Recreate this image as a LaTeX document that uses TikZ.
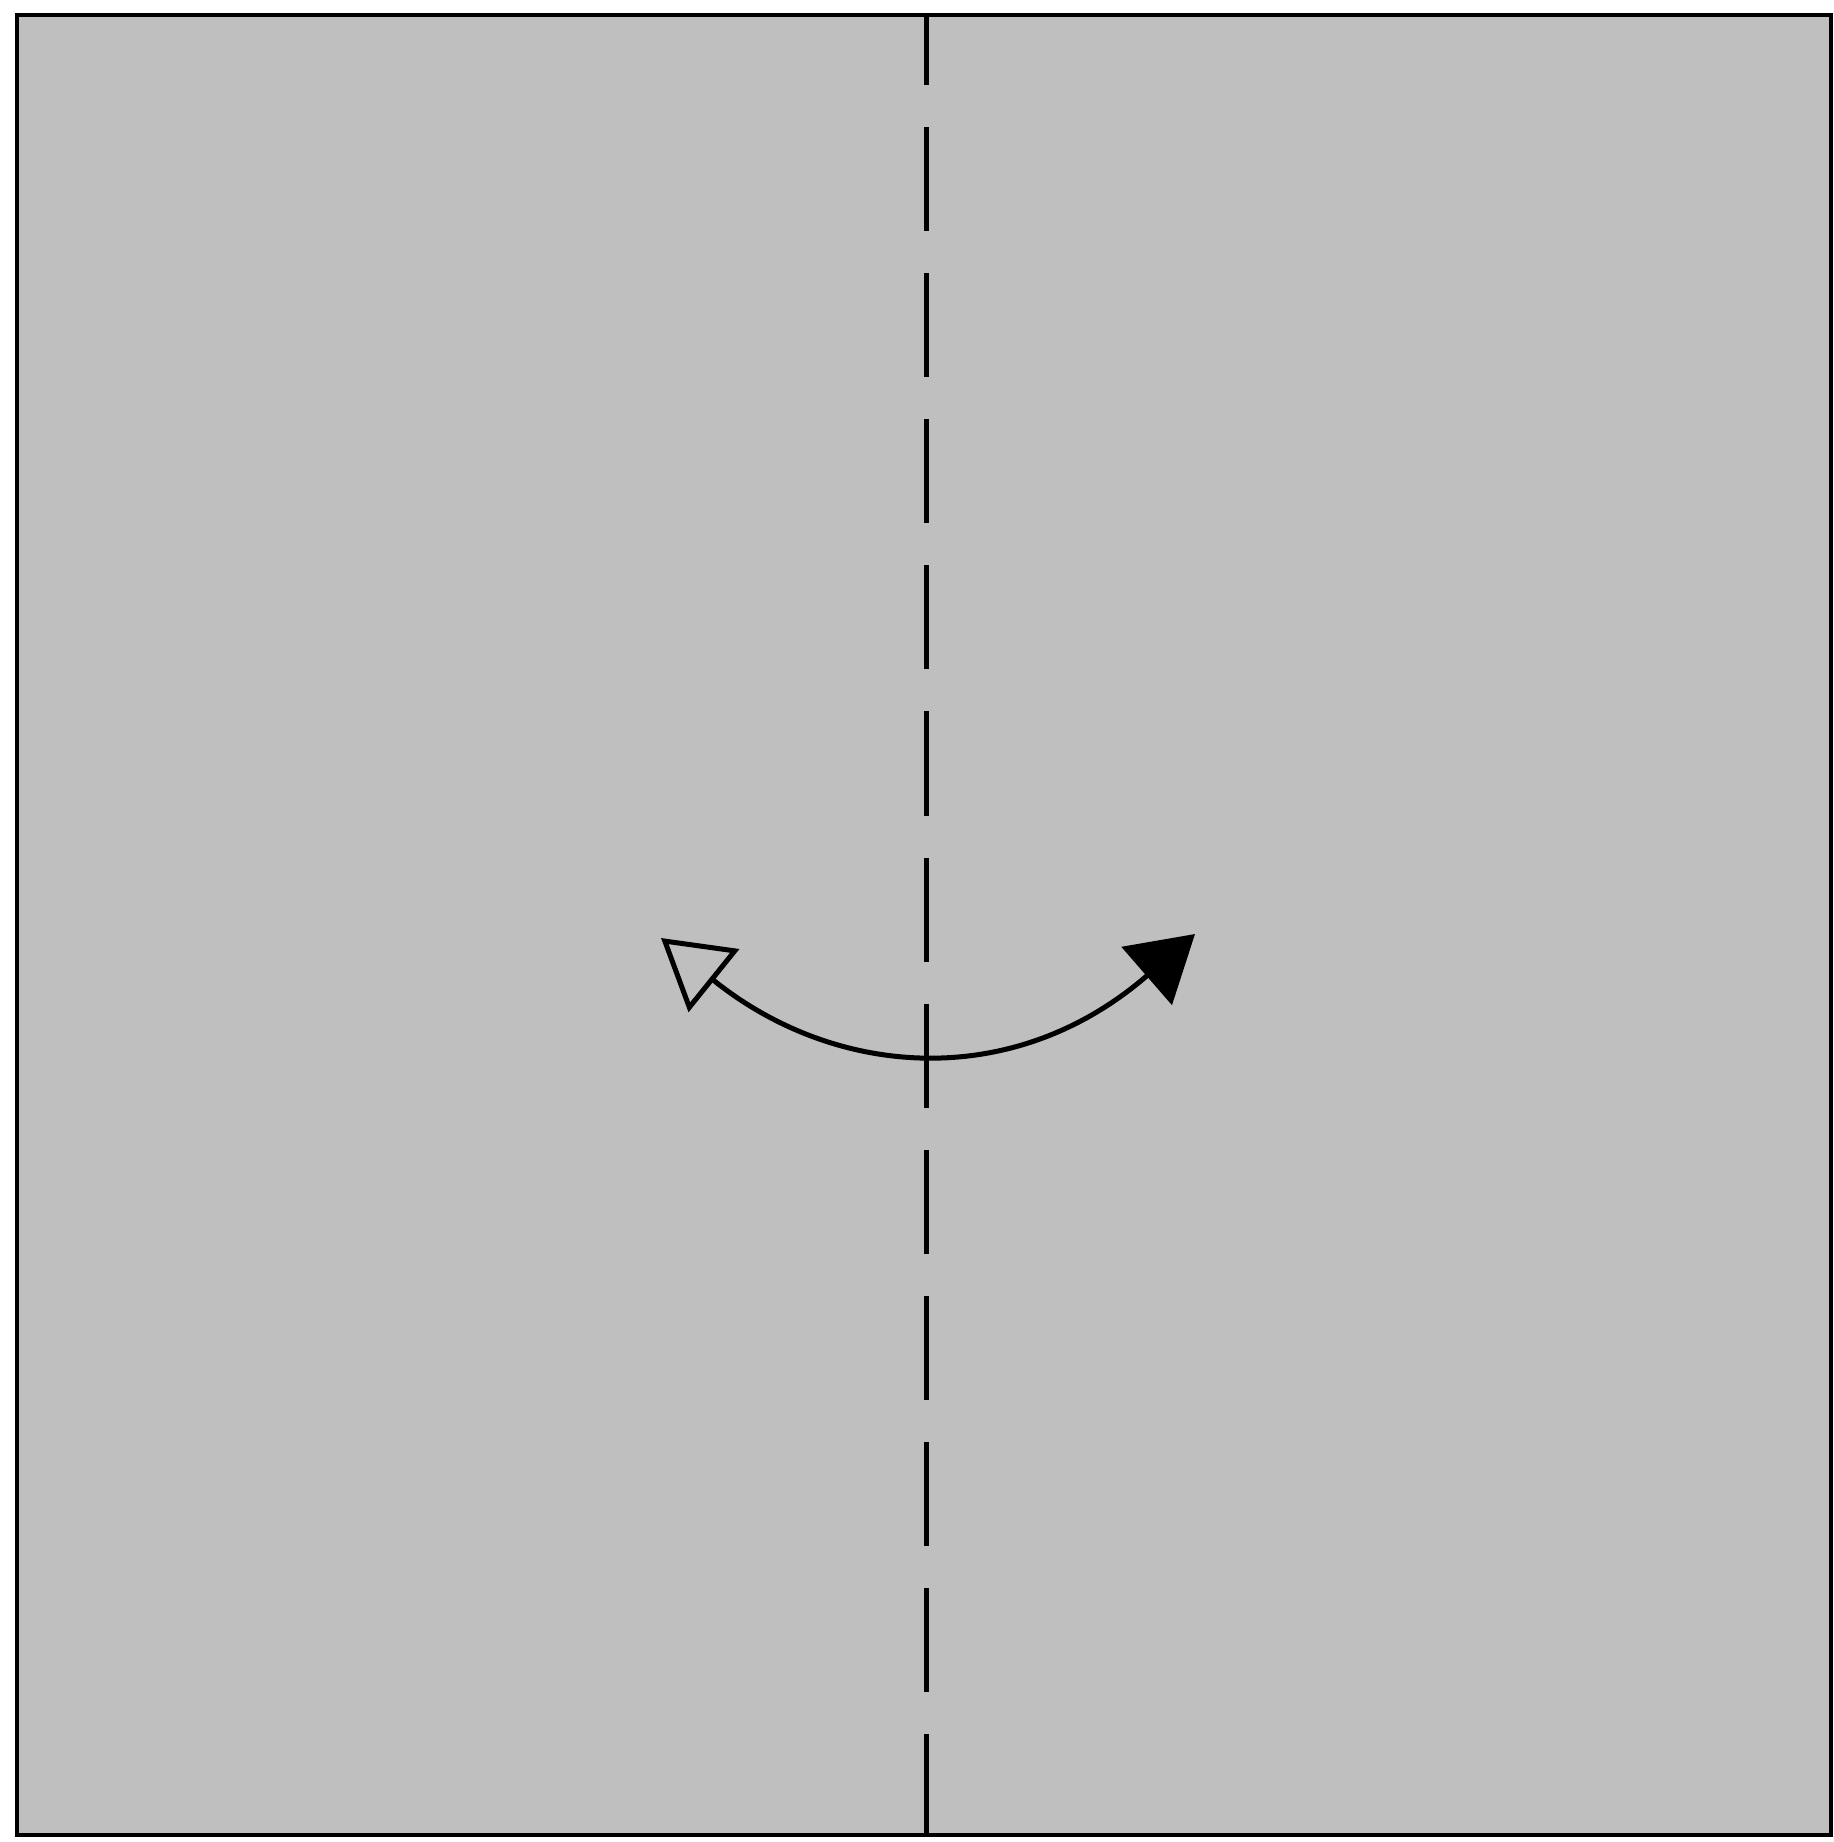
\documentclass[tikz,border=0pt]{standalone}
\usepackage{xcolor}
\usepackage{tikz}
\usetikzlibrary{arrows.meta, positioning, calc}
\tikzstyle{paper} = [draw=black, fill=black!25, line width=0.045cm]
\tikzstyle{valley} = [draw=black, line width=0.05cm, dash pattern=on 29.6pt off 11.95pt, dash phase=9.7pt]
\tikzstyle{arrow} = [line width=0.05cm, {Triangle[open,length=0.68cm,width=0.8cm]}-{Triangle[length=0.64cm,width=0.76cm]}]

\begin{document}
\begin{tikzpicture}[x=0.01cm, y=-0.01cm]
    \useasboundingbox (0,0) rectangle (1834,1842);
    \coordinate (nw) at (17,15);
    \coordinate (se) at (1831,1835);
    \draw [paper] (nw) rectangle (se);

    \coordinate (top) at (926,15);
    \coordinate (bottom) at (926,1835);
    \draw [valley] (top) -- (bottom);

    \coordinate (left) at (661,938);
    \coordinate (right) at (1195,934);
    \draw [arrow] (left) .. controls (835,1078) and (1013,1092) .. (right);
\end{tikzpicture}
\end{document}
